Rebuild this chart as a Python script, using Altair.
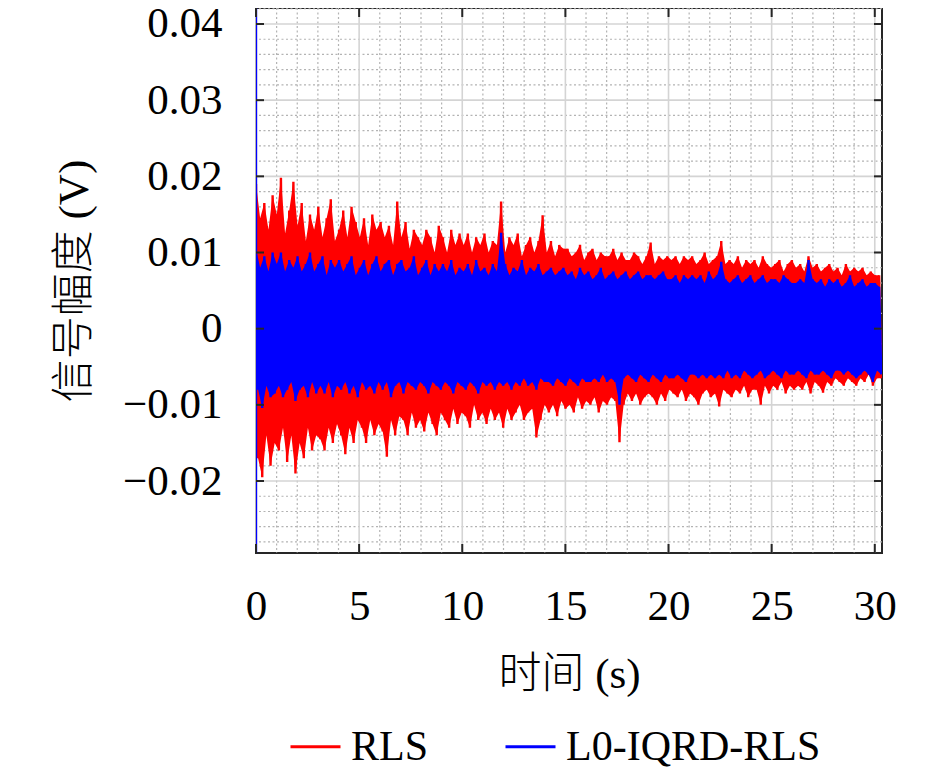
import altair as alt
import pandas as pd

# sampling step of the plotted traces (s)
DT = 0.1007

# alternating positive / negative peaks of each trace, in mV, one row per second
RLS_UP = [
    19.0, 14.5, 16.5, 13.0, 17.5,
    15.0, 19.8, 12.5, 15.5, 19.3,
    13.5, 16.5, 11.5, 15.0, 13.0,
    16.0, 12.0, 14.5, 17.0, 11.5,
    13.0, 15.5, 12.0, 16.0, 14.0,
    12.0, 14.5, 11.0, 15.0, 13.0,
    14.0, 12.0, 13.5, 11.0, 16.7,
    12.0, 14.0, 10.5, 13.0, 12.0,
    11.0, 13.0, 12.0, 10.0, 13.5,
    12.0, 10.0, 13.0, 11.0, 12.5,
    11.0, 12.5, 10.0, 12.0, 11.0,
    12.5, 10.0, 11.5, 11.0, 16.7,
    10.0, 12.0, 11.0, 12.5, 9.5,
    11.0, 12.0, 10.0, 11.5, 14.9,
    10.0, 11.5, 9.5, 11.0, 10.5,
    10.5, 9.5, 10.0, 11.0, 9.0,
    10.0, 10.5, 9.0, 10.0, 9.5,
    9.5, 10.5, 9.0, 10.0, 9.0,
    9.0, 10.0, 9.5, 8.5, 9.5,
    11.3, 8.5, 9.5, 9.0, 9.5,
    9.0, 9.5, 8.5, 9.5, 9.0,
    9.5, 8.5, 9.0, 10.0, 8.5,
    9.0, 9.5, 11.5, 8.5, 9.0,
    8.5, 9.5, 8.0, 9.0, 8.5,
    9.0, 8.0, 9.5, 8.5, 8.0,
    8.5, 9.0, 7.5, 8.5, 9.0,
    8.0, 8.5, 7.5, 9.5, 8.0,
    8.5, 7.5, 8.0, 8.5, 7.5,
    8.0, 7.0, 8.5, 7.5, 8.0,
    7.5, 8.0, 7.0, 7.5, 7.0,
    7.0,
]
RLS_DOWN = [
    17.0, 19.5, 14.0, 18.0, 15.0,
    16.0, 13.0, 17.5, 14.0, 19.0,
    15.0, 17.0, 13.0, 16.0, 14.0,
    14.5, 16.0, 13.0, 15.0, 12.5,
    14.0, 16.5, 13.0, 15.0, 12.0,
    13.0, 15.0, 12.0, 14.0, 12.5,
    13.5, 16.8, 12.0, 14.0, 11.5,
    12.0, 14.0, 11.0, 13.0, 12.0,
    13.5, 11.0, 12.5, 14.0, 11.0,
    12.0, 13.0, 10.5, 12.5, 11.0,
    11.5, 13.0, 10.0, 12.0, 11.0,
    12.5, 10.5, 12.0, 11.0, 13.0,
    10.5, 12.0, 11.0, 10.0, 12.0,
    11.0, 10.5, 14.3, 12.0, 10.0,
    11.0, 10.0, 11.5, 9.5, 10.5,
    10.0, 11.0, 9.0, 10.5, 9.5,
    10.0, 9.0, 11.0, 9.5, 10.0,
    9.0, 9.5, 14.9, 10.0, 8.5,
    9.5, 8.5, 10.0, 9.0, 8.5,
    9.0, 10.0, 8.5, 9.5, 8.0,
    8.5, 9.0, 8.0, 9.5, 8.5,
    9.0, 10.0, 8.5, 8.0, 9.0,
    8.5, 10.2, 8.0, 8.5, 9.0,
    8.0, 8.5, 7.5, 9.0, 8.0,
    8.0, 10.0, 7.5, 8.5, 7.5,
    8.0, 7.0, 8.5, 7.5, 8.0,
    7.5, 8.0, 7.0, 8.5, 7.0,
    7.5, 8.4, 7.0, 7.5, 6.5,
    7.0, 7.5, 6.5, 7.0, 7.5,
    6.5, 7.0, 6.0, 7.5, 6.5,
    6.5,
]
L0_UP = [
    10.5, 8.0, 9.5, 7.5, 10.0,
    8.5, 10.0, 7.5, 9.0, 8.0,
    9.5, 7.5, 8.5, 10.0, 7.5,
    8.5, 9.5, 7.0, 9.0, 8.0,
    9.0, 7.5, 8.5, 9.5, 7.0,
    8.0, 9.0, 7.0, 8.5, 9.5,
    7.5, 8.5, 9.0, 7.0, 8.5,
    9.0, 7.5, 8.0, 9.5, 7.0,
    8.0, 9.0, 7.0, 8.5, 7.5,
    8.5, 7.5, 9.0, 7.0, 8.0,
    7.5, 8.5, 7.0, 9.0, 7.5,
    8.0, 7.0, 8.5, 7.5, 12.6,
    8.5, 7.0, 8.0, 7.5, 9.0,
    7.0, 8.0, 7.5, 8.5, 7.0,
    7.5, 8.0, 7.0, 7.5, 8.0,
    7.0, 7.5, 6.5, 8.0, 7.0,
    7.5, 6.5, 7.0, 8.0, 6.5,
    7.0, 7.5, 6.5, 7.0, 7.5,
    6.5, 7.0, 7.5, 6.5, 7.0,
    7.0, 6.5, 7.0, 7.5, 6.5,
    6.5, 7.0, 6.0, 7.0, 6.5,
    7.0, 6.5, 7.0, 6.0, 7.5,
    6.5, 7.0, 8.8, 6.5, 6.0,
    6.5, 7.0, 6.0, 6.5, 7.0,
    6.0, 6.5, 7.0, 6.0, 6.5,
    6.5, 6.0, 7.0, 6.5, 6.0,
    6.0, 6.5, 6.0, 9.0, 6.5,
    6.0, 6.5, 5.5, 6.5, 6.0,
    6.5, 5.5, 6.0, 7.0, 5.5,
    6.0, 6.5, 5.5, 6.0, 6.0,
    5.5,
]
L0_DOWN = [
    8.0, 10.4, 7.5, 9.0, 8.5,
    7.5, 9.0, 8.0, 7.0, 9.5,
    8.0, 7.5, 9.0, 7.0, 8.5,
    7.5, 8.5, 7.0, 9.0, 7.5,
    8.0, 7.0, 8.5, 7.5, 9.0,
    7.0, 8.0, 7.5, 8.5, 7.0,
    8.0, 7.0, 9.0, 7.5, 7.0,
    8.5, 7.0, 7.5, 8.0, 7.0,
    7.5, 8.5, 7.0, 7.5, 8.0,
    7.0, 7.5, 8.5, 7.0, 7.5,
    8.0, 7.0, 7.5, 8.5, 7.0,
    7.5, 7.0, 8.0, 7.0, 7.5,
    7.0, 8.0, 7.0, 7.5, 6.5,
    7.5, 7.0, 8.0, 6.5, 7.0,
    7.0, 7.5, 6.5, 7.0, 7.5,
    6.5, 7.0, 7.5, 6.5, 7.0,
    7.0, 6.5, 7.0, 6.0, 7.0,
    6.5, 7.0, 10.0, 6.5, 6.0,
    6.5, 7.0, 6.0, 6.5, 7.0,
    6.0, 6.5, 7.0, 6.0, 6.5,
    6.5, 6.0, 6.5, 7.0, 6.0,
    6.0, 6.5, 6.0, 6.5, 6.0,
    6.5, 6.0, 6.5, 5.5, 6.5,
    6.0, 6.5, 5.5, 6.0, 6.5,
    6.0, 5.5, 6.5, 6.0, 5.5,
    6.0, 6.5, 5.5, 6.0, 6.0,
    5.5, 6.0, 6.5, 5.5, 6.0,
    6.0, 5.5, 6.0, 6.5, 5.5,
    5.5, 6.0, 5.5, 6.0, 6.5,
    6.0, 5.5, 6.0, 7.0, 5.5,
    6.0,
]
# start-up transient of L0-IQRD-RLS at t = 0 (runs off both ends of the axis)
L0_START = [60.0, -45.0]

SERIES = ["RLS", "L0-IQRD-RLS"]
COLORS = ["#ff0000", "#0000ff"]

X_TICKS = [0, 5, 10, 15, 20, 25, 30]
Y_TICKS = [-0.02, -0.01, 0.0, 0.01, 0.02, 0.03, 0.04]
X_MINOR = [i for i in range(31) if i % 5]
Y_MINOR = [round(k * 0.002, 3) for k in range(-14, 22) if k % 5]

X_DOMAIN = [0, 30.35]
Y_DOMAIN = [-0.02945, 0.0421]
W, H = 626, 545

LATIN = "Liberation Serif"
MIXED = "Liberation Serif, Noto Sans CJK SC"
AXIS = "#262626"
INK = "#000000"


def peaks(name, values, sign, offset):
    df = pd.DataFrame({"mv": values})
    df["t"] = [(2 * k + offset) * DT for k in range(len(values))]
    df["v"] = sign * df["mv"] / 1000
    df["series"] = name
    return df


def signal(name, up, down, start=()):
    hi = peaks(name, up, 1, 0)
    lo = peaks(name, down, -1, 1)
    pre = pd.DataFrame({"t": 0.0, "v": [v / 1000 for v in start], "series": name})
    zig = pd.concat([hi, lo]).sort_values("t", kind="stable")
    df = pd.concat([pre, zig[["t", "v", "series"]]], ignore_index=True)
    df["i"] = range(len(df))
    return hi, lo, df


xs = alt.Scale(domain=X_DOMAIN, nice=False, zero=False)
ys = alt.Scale(domain=Y_DOMAIN, nice=False, zero=False)

x_axis = alt.Axis(
    values=X_TICKS, format="d", grid=False, domain=False, ticks=False, tickSize=0,
    labelFont=LATIN, labelFontSize=43, labelColor=INK, labelPadding=32,
    labelFlush=False, labelOverlap=False,
    title="时间 (s)", titleFont=MIXED, titleFontSize=43, titleFontWeight=300,
    titleColor=INK, titlePadding=25,
)
y_axis = alt.Axis(
    values=Y_TICKS, format=".2~f", grid=False, domain=False, ticks=False, tickSize=0,
    labelFont=LATIN, labelFontSize=43, labelColor=INK, labelPadding=34,
    labelFlush=False, labelOverlap=False,
    title="信号幅度 (V)", titleFont=MIXED, titleFontSize=43, titleFontWeight=300,
    titleColor=INK, titlePadding=26,
)
X = dict(field="t", type="quantitative", scale=xs, axis=x_axis)
Y = dict(field="v", type="quantitative", scale=ys, axis=y_axis)

legend = alt.Legend(
    title=None, orient="none", legendX=33, legendY=712, direction="horizontal",
    symbolType="stroke", symbolSize=2500, symbolStrokeWidth=3,
    labelFont=LATIN, labelFontSize=42, labelColor=INK, labelOffset=9,
    labelLimit=400, columnPadding=70, padding=0,
)
color = alt.Color("series:N", scale=alt.Scale(domain=SERIES, range=COLORS), legend=legend)


def trace(name, up, down, start=()):
    hi, lo, zig = signal(name, up, down, start)
    fill = COLORS[SERIES.index(name)]
    # the trace is far denser than the screen: its peaks bound a solid band
    bands = [
        alt.Chart(part).mark_area(color=fill, clip=True).encode(
            x=alt.X(**X), y=alt.Y(**Y), y2=alt.datum(0))
        for part in (hi, lo)
    ]
    line = alt.Chart(zig).mark_line(strokeWidth=2.4, clip=True, strokeJoin="bevel").encode(
        x=alt.X(**X), y=alt.Y(**Y), color=color, order="i:Q")
    return bands + [line]


def vgrid(values, **style):
    return alt.Chart(pd.DataFrame({"t": values})).mark_rule(**style).encode(x=alt.X(**X))


def hgrid(values, **style):
    return alt.Chart(pd.DataFrame({"v": values})).mark_rule(**style).encode(y=alt.Y(**Y))


minor = dict(color="#b3b3b3", strokeWidth=1.2, strokeDash=[2, 2.5])
major = dict(color="#d4d4d4", strokeWidth=1.6)

xt = pd.DataFrame({"t": X_TICKS})
yt = pd.DataFrame({"v": Y_TICKS})
tick = dict(color=AXIS, strokeWidth=2)
ticks_bottom = alt.Chart(xt).mark_rule(**tick).encode(
    x=alt.X(**X), y=alt.value(H), y2=alt.value(H - 9))
ticks_top = alt.Chart(xt).mark_rule(**tick).encode(
    x=alt.X(**X), y=alt.value(0), y2=alt.value(9))
ticks_left = alt.Chart(yt).mark_rule(**tick).encode(
    y=alt.Y(**Y), x=alt.value(0), x2=alt.value(8))
ticks_right = alt.Chart(yt).mark_rule(**tick).encode(
    y=alt.Y(**Y), x=alt.value(W), x2=alt.value(W - 8))

chart = alt.layer(
    vgrid(X_MINOR, **minor),
    hgrid(Y_MINOR, **minor),
    vgrid(X_TICKS, **major),
    hgrid(Y_TICKS, **major),
    *trace("RLS", RLS_UP, RLS_DOWN),
    *trace("L0-IQRD-RLS", L0_UP, L0_DOWN, L0_START),
    ticks_bottom, ticks_top, ticks_left, ticks_right,
).properties(
    width=W,
    height=H,
    autosize=alt.AutoSizeParams(type="none"),
    padding={"left": 248, "top": 0, "right": 50, "bottom": 215},
    background="white",
).configure_view(stroke=AXIS, strokeWidth=2)

chart.save("out.html", embed_options={"renderer": "svg", "actions": False})
